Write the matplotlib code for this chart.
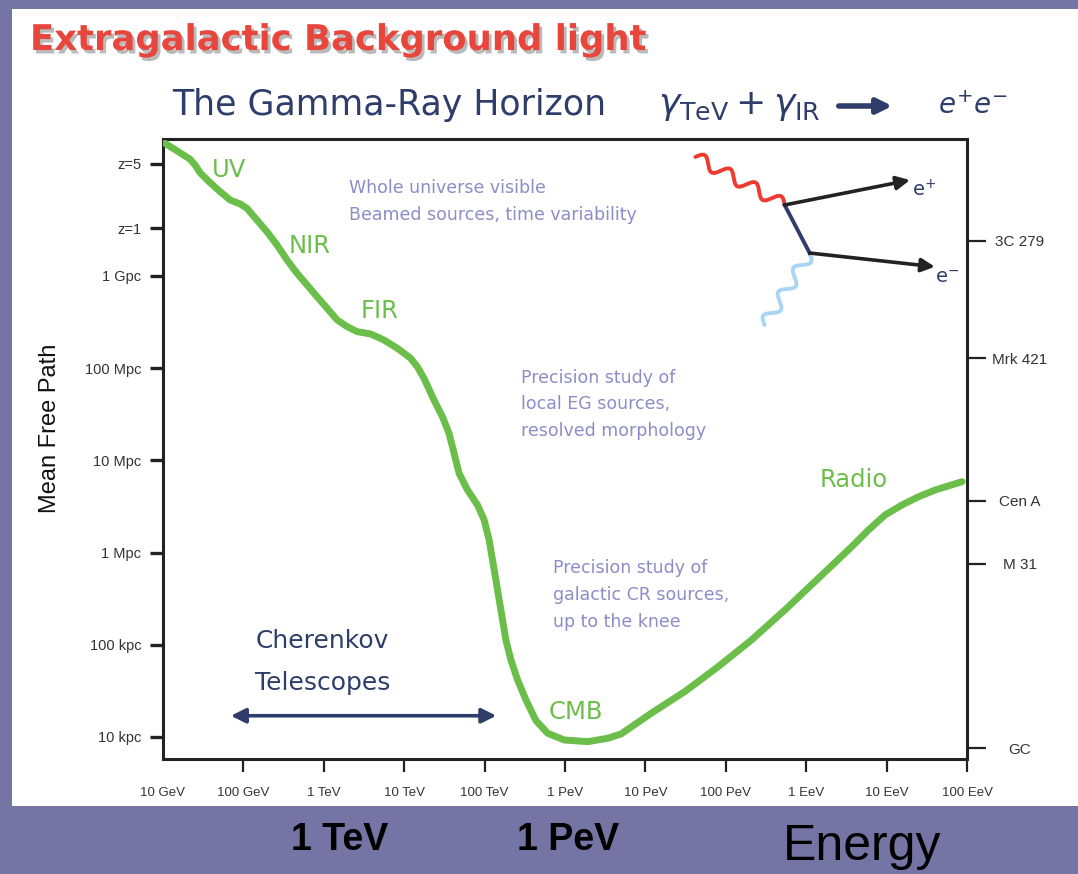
import numpy as np
import matplotlib.pyplot as plt
from matplotlib import patheffects
from matplotlib.patches import Rectangle
from matplotlib.transforms import ScaledTranslation

plt.rcParams['mathtext.fontset'] = 'dejavusans'

# log10(E / GeV) and log10(mean free path / kpc) along the horizon curve
log_energy = [1.025, 1.171, 1.337, 1.399, 1.461, 1.586, 1.711, 1.835, 1.960, 2.044,
              2.168, 2.293, 2.418, 2.542, 2.667, 2.792, 2.916, 3.041, 3.166, 3.291,
              3.415, 3.581, 3.747, 3.914, 4.080, 4.163, 4.246, 4.370, 4.475, 4.557,
              4.620, 4.682, 4.787, 4.911, 4.994, 5.056, 5.098, 5.140, 5.181, 5.223,
              5.264, 5.327, 5.410, 5.514, 5.638, 5.784, 5.991, 6.283, 6.532, 6.698,
              7.072, 7.488, 7.904, 8.319, 8.734, 9.151, 9.566, 9.774, 9.981, 10.190,
              10.398, 10.605, 10.938]
log_path = [7.439, 7.359, 7.266, 7.204, 7.120, 7.012, 6.914, 6.824, 6.781, 6.734,
            6.607, 6.480, 6.336, 6.174, 6.029, 5.902, 5.775, 5.650, 5.523, 5.450,
            5.396, 5.371, 5.306, 5.216, 5.107, 5.016, 4.890, 4.655, 4.474, 4.294,
            4.077, 3.860, 3.679, 3.516, 3.354, 3.137, 2.920, 2.703, 2.486, 2.269,
            2.052, 1.835, 1.618, 1.401, 1.178, 1.040, 0.967, 0.949, 0.986, 1.033,
            1.257, 1.491, 1.762, 2.052, 2.377, 2.721, 3.064, 3.245, 3.408, 3.516,
            3.606, 3.679, 3.769]

energy_ticks = [1, 2, 3, 4, 5, 6, 7, 8, 9, 10, 11]
energy_labels = ["10 GeV", "100 GeV", "1 TeV", "10 TeV", "100 TeV", "1 PeV",
                 "10 PeV", "100 PeV", "1 EeV", "10 EeV", "100 EeV"]

path_ticks = [7.215, 6.52, 6, 5, 4, 3, 2, 1]
path_labels = ["z=5", "z=1", "1 Gpc", "100 Mpc", "10 Mpc", "1 Mpc", "100 kpc", "10 kpc"]

source_names = ["3C 279", "Mrk 421", "Cen A", "M 31", "GC"]
source_dist = [6.38, 5.11, 3.56, 2.88, 0.88]

# band labels along the curve: (text, log E, log L)
bands = [("UV", 1.61, 7.15), ("NIR", 2.56, 6.33), ("FIR", 3.46, 5.62),
         ("CMB", 5.79, 1.27), ("Radio", 9.17, 3.79)]

GREEN = "#6cbe4b"
NAVY = "#2f3d6b"
LAVENDER = "#8c8cc8"
RED = "#e8453c"

fig = plt.figure(figsize=(10.78, 8.74), dpi=100)
fig.patch.set_facecolor("#7575a5")
fig.add_artist(Rectangle((0.011, 0.078), 0.989, 0.912, transform=fig.transFigure,
                         facecolor="white", edgecolor="none", zorder=-1))

ax = fig.add_axes([0.1512, 0.1316, 0.7459, 0.7094])
ax.set_xlim(1, 11)
ax.set_ylim(0.761, 7.486)
for sp in ax.spines.values():
    sp.set_linewidth(2.2)
    sp.set_color("#222222")

ax.plot(log_energy, log_path, color=GREEN, lw=5, solid_joinstyle="round",
        solid_capstyle="round", zorder=3)

ax.set_xticks(energy_ticks)
ax.set_xticklabels(energy_labels, fontsize=9.5, color="#333333", family="Liberation Sans")
ax.tick_params(axis="x", direction="out", length=9.5, width=1.6, pad=11, color="#222222")
ax.xaxis.get_major_ticks()[0].tick1line.set_visible(False)

ax.set_yticks(path_ticks)
ax.set_yticklabels(path_labels, fontsize=10.5, color="#333333", family="Liberation Sans")
ax.tick_params(axis="y", direction="out", length=9.5, width=2.4, pad=6, color="#222222")

ax2 = ax.twinx()
ax2.set_ylim(ax.get_ylim())
ax2.set_yticks(source_dist)
ax2.set_yticklabels(source_names, fontsize=11, color="#333333", family="Liberation Sans")
ax2.tick_params(axis="y", direction="out", length=14, width=1.6, pad=24, color="#222222")
for t in ax2.get_yticklabels():
    t.set_ha("center")
for sp in ax2.spines.values():
    sp.set_visible(False)

for name, x, y in bands:
    ax.text(x, y, name, color=GREEN, fontsize=17.5, ha="left", va="center")

nudge = ax.transData + ScaledTranslation(0, 7 / 72, fig.dpi_scale_trans)
ax.text(3.31, 6.95, "Whole universe visible", color=LAVENDER, fontsize=12.5, va="center")
ax.text(3.31, 6.66, "Beamed sources, time variability", color=LAVENDER, fontsize=12.5,
        va="center")
ax.text(5.45, 4.89, "Precision study of\nlocal EG sources,\nresolved morphology",
        color=LAVENDER, fontsize=12.5, va="top", linespacing=1.62, transform=nudge)
ax.text(5.85, 2.82, "Precision study of\ngalactic CR sources,\nup to the knee",
        color=LAVENDER, fontsize=12.5, va="top", linespacing=1.62, transform=nudge)

ax.text(2.15, 2.04, "Cherenkov", color=NAVY, fontsize=18, va="center")
ax.text(2.15, 1.59, "Telescopes", color=NAVY, fontsize=18, va="center")
ax.annotate("", xy=(1.81, 1.23), xytext=(5.18, 1.23),
            arrowprops=dict(arrowstyle="<|-|>", color=NAVY, lw=2.6, mutation_scale=22))

# pair-production sketch
def wave(p0, p1, periods, amp):
    a = ax.transData.transform(p0)
    b = ax.transData.transform(p1)
    d = b - a
    n = np.array([-d[1], d[0]]) / np.hypot(*d)
    t = np.linspace(0, 1, 200)
    pts = a + np.outer(t, d) + np.outer(amp * np.sin(2 * np.pi * periods * t), n)
    return ax.transData.inverted().transform(pts)

junction_a = (8.731, 6.770)
junction_b = (9.042, 6.249)
red = wave((7.621, 7.291), junction_a, 3.5, 6)
ax.plot(red[:, 0], red[:, 1], color="#ee3b30", lw=2.8, solid_capstyle="round")
blue = wave(junction_b, (8.481, 5.469), 3.0, 6)
ax.plot(blue[:, 0], blue[:, 1], color="#a9d5f5", lw=2.8, solid_capstyle="round")
ax.plot([junction_a[0], junction_b[0]], [junction_a[1], junction_b[1]], color=NAVY, lw=2.8)
ax.annotate("", xy=(10.29, 7.04), xytext=junction_a,
            arrowprops=dict(arrowstyle="-|>", color="#222222", lw=2.6, mutation_scale=20,
                            shrinkA=0, shrinkB=0))
ax.annotate("", xy=(10.60, 6.10), xytext=junction_b,
            arrowprops=dict(arrowstyle="-|>", color="#222222", lw=2.6, mutation_scale=20,
                            shrinkA=0, shrinkB=0))
ax.text(10.32, 6.93, r"e$^{+}$", color=NAVY, fontsize=14, va="center")
ax.text(10.60, 5.98, r"e$^{-}$", color=NAVY, fontsize=14, va="center")

# headings
fig.text(30 / 1078, 1 - 40 / 874, "Extragalactic Background light", color=RED,
         fontsize=25.5, fontweight="bold", ha="left", va="center",
         path_effects=[patheffects.withSimplePatchShadow(offset=(2, -2.5),
                                                         shadow_rgbFace="#777777", alpha=0.5)])
fig.text(172 / 1078, 1 - 105 / 874, "The Gamma-Ray Horizon", color=NAVY, fontsize=25,
         ha="left", va="center")
fig.text(658 / 1078, 1 - 106 / 874, r"$\gamma_{\rm TeV} + \gamma_{\rm IR}$", color=NAVY,
         fontsize=26, ha="left", va="center")
ax.annotate("", xy=(895, 874 - 106), xytext=(836, 874 - 106), xycoords="figure pixels",
            arrowprops=dict(arrowstyle="-|>", color=NAVY, lw=4, mutation_scale=22),
            annotation_clip=False)
fig.text(938 / 1078, 1 - 106 / 874, r"$e^{+}e^{-}$", color=NAVY, fontsize=20,
         ha="left", va="center")

fig.text(50 / 1078, 1 - 428 / 874, "Mean Free Path", rotation=90, fontsize=17,
         ha="center", va="center", family="Liberation Sans", color="#111111")

fig.text(340 / 1078, 1 - 840 / 874, "1 TeV", fontsize=27, fontweight="bold",
         ha="center", va="center", family="Liberation Sans", color="black")
fig.text(568 / 1078, 1 - 840 / 874, "1 PeV", fontsize=27, fontweight="bold",
         ha="center", va="center", family="Liberation Sans", color="black")
fig.text(862 / 1078, 14 / 874, "Energy", fontsize=36, ha="center", va="baseline",
         family="Liberation Sans", color="black")

fig.savefig("out.png", dpi=100, facecolor=fig.get_facecolor())
